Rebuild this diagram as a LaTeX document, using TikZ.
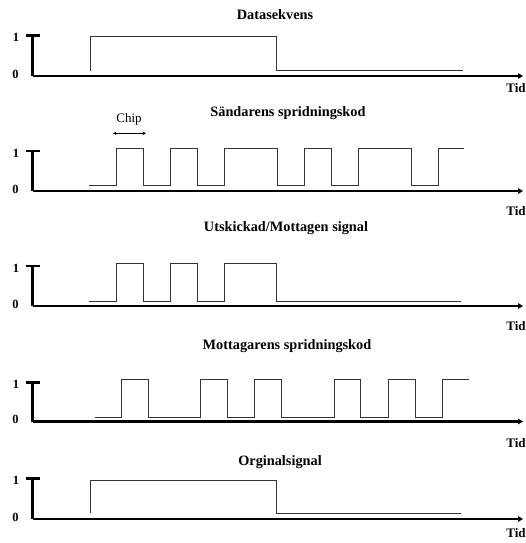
\documentclass[tikz,border=0pt]{standalone}
\usepackage{fontspec}
\setmainfont{Liberation Serif}
\usetikzlibrary{arrows.meta}

\begin{document}
\begin{tikzpicture}[x=1pt,y=-1pt,
  axisline/.style={line width=2.6pt, black},
  timeaxis/.style={axisline, -{Triangle[length=5pt,width=5.5pt]}},
  sig/.style={line width=0.9pt, black!80, line join=miter},
  ttl/.style={font=\bfseries\fontsize{14.3}{16}\selectfont, inner sep=0pt},
  lvl/.style={font=\bfseries\fontsize{12.5}{14}\selectfont, inner sep=0pt},
  tid/.style={font=\bfseries\fontsize{13}{15}\selectfont, inner sep=0pt},
  chiptxt/.style={font=\fontsize{13}{15}\selectfont, inner sep=0pt},
  chipspan/.style={line width=0.8pt, {Stealth[length=3.5pt,width=3.5pt]}-{Stealth[length=3.5pt,width=3.5pt]}}
]
\useasboundingbox (0,0) rectangle (526,543);

% axes of the five panels: {axis y / top tick y / panel id}
\foreach \ax/\tk/\id in {76/35.5/a, 191/151/b, 306/266/c, 421.5/382.5/d, 519/478.5/e}{
  \coordinate (o\id) at (32.7,\ax);
  \coordinate (t\id) at (32.7,\tk);
  \coordinate (tl\id) at (25.5,\tk);
  \coordinate (tr\id) at (39.5,\tk);
  \coordinate (x\id) at (523,\ax);
  \draw[axisline, line cap=butt] (tl\id) -- (tr\id);
  \draw[axisline, line cap=butt] (t\id) -- (o\id);
  \draw[timeaxis] (o\id) -- (x\id);
  \node[lvl] (one\id) at (16,\tk+2) {1};
  \node[lvl] (zero\id) at (15.5,\ax-2) {0};
}

% "Tid" labels at the ends of the time axes
\node[tid] (tida) at (516,88) {Tid};
\node[tid] (tidb) at (516,211) {Tid};
\node[tid] (tidc) at (516,326) {Tid};
\node[tid] (tidd) at (516,443) {Tid};
\node[tid] (tide) at (516,533) {Tid};

% titles
\node[ttl] (ttla) at (275,15) {Datasekvens};
\node[ttl] (ttlb) at (288,113) {Sändarens spridningskod};
\node[ttl] (ttlc) at (286,228) {Utskickad/Mottagen signal};
\node[ttl] (ttld) at (287,346) {Mottagarens spridningskod};
\node[ttl] (ttle) at (280,462) {Orginalsignal};

% chip width marker
\node[chiptxt] (chip) at (129,119) {Chip};
\coordinate (chipl) at (113,133.3);
\coordinate (chipr) at (146,133.3);
\draw[chipspan] (chipl) -- (chipr);

% data sequence
\draw[sig] (90,70.5) |- (276,36) |- (463,70.5);

% sender spreading code
\draw[sig] (89,185.5) -| (116,148) -| (143,185.5) -| (170,148) -| (197,185.5)
  -| (224,148) -| (277,185.5) -| (304,148) -| (331,185.5) -| (358,148)
  -| (411,185.5) -| (438,148) -- (464,148);

% transmitted / received signal
\draw[sig] (89,301) -| (116,263) -| (143,301) -| (170,263) -| (197,301)
  -| (224,263) -| (276,301) -- (461,301);

% receiver spreading code
\draw[sig] (94.5,417) -| (121,379.5) -| (148,417) -| (200,379.5) -| (227,417)
  -| (254,379.5) -| (281,417) -| (334,379.5) -| (360.5,417) -| (388,379.5)
  -| (415,417) -| (442,379.5) -- (469,379.5);

% recovered signal
\draw[sig] (90,513) |- (276,480) |- (461,513);
\end{tikzpicture}
\end{document}
